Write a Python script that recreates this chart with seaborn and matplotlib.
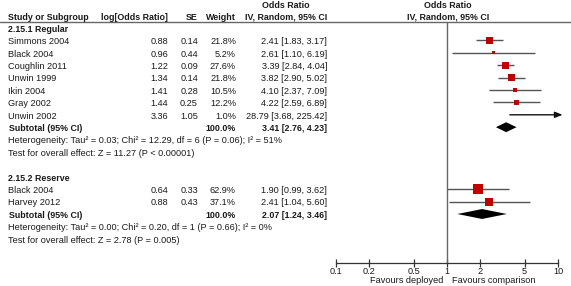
import numpy as np
import pandas as pd
import matplotlib
matplotlib.use("Agg")
import matplotlib.pyplot as plt
import matplotlib.transforms as mtransforms
import seaborn as sns

# -----------------------------
# Data
# -----------------------------
studies_regular = ["Simmons 2004", "Black 2004", "Coughlin 2011", "Unwin 1999",
                   "Ikin 2004", "Gray 2002", "Unwin 2002"]
logor_regular = [0.88, 0.96, 1.22, 1.34, 1.41, 1.44, 3.36]
se_regular = [0.14, 0.44, 0.09, 0.14, 0.28, 0.25, 1.05]
weight_regular = [21.8, 5.2, 27.6, 21.8, 10.5, 12.2, 1.0]
or_regular = [2.41, 2.61, 3.39, 3.82, 4.10, 4.22, 28.79]
lo_regular = [1.83, 1.10, 2.84, 2.90, 2.37, 2.59, 3.68]
hi_regular = [3.17, 6.19, 4.04, 5.02, 7.09, 6.89, 225.42]
sub_regular = [3.41, 2.76, 4.23]
het_regular = "Heterogeneity: Tau\u00b2 = 0.03; Chi\u00b2 = 12.29, df = 6 (P = 0.06); I\u00b2 = 51%"
test_regular = "Test for overall effect: Z = 11.27 (P < 0.00001)"

studies_reserve = ["Black 2004", "Harvey 2012"]
logor_reserve = [0.64, 0.88]
se_reserve = [0.33, 0.43]
weight_reserve = [62.9, 37.1]
or_reserve = [1.90, 2.41]
lo_reserve = [0.99, 1.04]
hi_reserve = [3.62, 5.60]
sub_reserve = [2.07, 1.24, 3.46]
het_reserve = "Heterogeneity: Tau\u00b2 = 0.00; Chi\u00b2 = 0.20, df = 1 (P = 0.66); I\u00b2 = 0%"
test_reserve = "Test for overall effect: Z = 2.78 (P = 0.005)"

ticks = [0.1, 0.2, 0.5, 1, 2, 5, 10]
tick_labels = ["0.1", "0.2", "0.5", "1", "2", "5", "10"]

# -----------------------------
# Style
# -----------------------------
sns.set_style("white")
plt.rcParams["font.family"] = ["Liberation Sans", "DejaVu Sans"]
TXT = "#1a1a1a"
FS = 6.6
FS_B = 6.4
RED = "#c00000"
LINE = "#555555"

W, H = 571, 286
fig = plt.figure(figsize=(W / 100, H / 100), dpi=100)

# forest panel in pixel layout
x0, x1 = 336, 558
y_top, y_bot = 22, 263
ax = fig.add_axes([x0 / W, 1 - y_bot / H, (x1 - x0) / W, (y_bot - y_top) / H])

row0, step = 28, 12.4
ax.set_xscale("log")
ax.set_xlim(0.1, 10)
ax.set_ylim((y_bot - row0) / step, (y_top - row0) / step)

# row positions
rows_regular = list(range(1, 8))
row_sub_regular = 8
rows_reserve = [13, 14]
row_sub_reserve = 15

df = pd.DataFrame({
    "or": or_regular + or_reserve,
    "row": rows_regular + rows_reserve,
    "weight": weight_regular + weight_reserve,
    "lo": lo_regular + lo_reserve,
    "hi": hi_regular + hi_reserve,
})

# CI lines
for _, r in df.iterrows():
    if r["hi"] > 10:
        ax.annotate("", xy=(11, r["row"]), xytext=(r["lo"], r["row"]),
                    arrowprops=dict(arrowstyle="-|>,head_length=0.45,head_width=0.18",
                                    color="#111111", lw=1, shrinkA=0, shrinkB=0),
                    annotation_clip=False)
    else:
        ax.hlines(r["row"], r["lo"], r["hi"], color=LINE, lw=1)

vis = df[df["or"] < 10]
sns.scatterplot(data=vis, x="or", y="row", size="weight", sizes=(0, 58),
                size_norm=(0, 62.9), marker="s", color=RED, linewidth=0,
                legend=False, ax=ax, zorder=3)

# diamonds
for sub, row in [(sub_regular, row_sub_regular), (sub_reserve, row_sub_reserve)]:
    est, lo, hi = sub
    ax.fill([lo, est, hi, est], [row, row - 0.4, row, row + 0.4], color="black", lw=0)

ax.axvline(1, color="#666666", lw=1, zorder=1)

for s in ["top", "left", "right"]:
    ax.spines[s].set_visible(False)
ax.spines["bottom"].set_color("#333333")
ax.spines["bottom"].set_linewidth(0.9)
ax.set_xticks(ticks)
ax.set_xticklabels(tick_labels)
ax.xaxis.set_minor_locator(matplotlib.ticker.NullLocator())
ax.tick_params(axis="x", direction="inout", length=6, width=0.9, color="#333333",
               labelsize=FS, labelcolor=TXT, pad=0, bottom=True)
ax.set_yticks([])
ax.set_xlabel("")
ax.set_ylabel("")

# -----------------------------
# Text columns
# -----------------------------
tr = mtransforms.blended_transform_factory(fig.transFigure, ax.transData)
DY = 0.1  # small nudge so text sits level with the marks


def txt(xpx, row, s, ha="left", bold=False):
    ax.text(xpx / W, row + DY, s, transform=tr, ha=ha, va="center",
            fontsize=FS_B if bold else FS, color=TXT,
            fontweight="bold" if bold else "normal", clip_on=False)


hdr1 = (4 - row0) / step
hdr2 = (16 - row0) / step
txt(8, hdr2, "Study or Subgroup", bold=True)
txt(168, hdr2, "log[Odds Ratio]", ha="right", bold=True)
txt(198, hdr2, "SE", ha="right", bold=True)
txt(236, hdr2, "Weight", ha="right", bold=True)
txt(286, hdr1, "Odds Ratio", ha="center", bold=True)
txt(327, hdr2, "IV, Random, 95% CI", ha="right", bold=True)
txt(448, hdr1, "Odds Ratio", ha="center", bold=True)
txt(448, hdr2, "IV, Random, 95% CI", ha="center", bold=True)

# header line across the full width
yline = (y_top - row0) / step
ax.plot([0, 1], [yline, yline], transform=tr, color="#666666", lw=1, clip_on=False)


def study_rows(names, logor, se, weight, orv, lo, hi, rows):
    for n, l, s, w, o, a, b, r in zip(names, logor, se, weight, orv, lo, hi, rows):
        txt(8, r, n)
        txt(168, r, f"{l:.2f}", ha="right")
        txt(198, r, f"{s:.2f}", ha="right")
        txt(236, r, f"{w:.1f}%", ha="right")
        txt(327, r, f"{o:.2f} [{a:.2f}, {b:.2f}]", ha="right")


txt(8, 0, "2.15.1 Regular", bold=True)
study_rows(studies_regular, logor_regular, se_regular, weight_regular,
           or_regular, lo_regular, hi_regular, rows_regular)
txt(9, row_sub_regular, "Subtotal (95% CI)", bold=True)
txt(236, row_sub_regular, "100.0%", ha="right", bold=True)
txt(327, row_sub_regular, "{:.2f} [{:.2f}, {:.2f}]".format(*sub_regular), ha="right", bold=True)
txt(8, row_sub_regular + 1, het_regular)
txt(8, row_sub_regular + 2, test_regular)

txt(8, 12, "2.15.2 Reserve", bold=True)
study_rows(studies_reserve, logor_reserve, se_reserve, weight_reserve,
           or_reserve, lo_reserve, hi_reserve, rows_reserve)
txt(9, row_sub_reserve, "Subtotal (95% CI)", bold=True)
txt(236, row_sub_reserve, "100.0%", ha="right", bold=True)
txt(327, row_sub_reserve, "{:.2f} [{:.2f}, {:.2f}]".format(*sub_reserve), ha="right", bold=True)
txt(8, row_sub_reserve + 1, het_reserve)
txt(8, row_sub_reserve + 2, test_reserve)

# favours labels
fy = (280.5 - row0) / step - DY
txt(443, fy, "Favours deployed", ha="right")
txt(452, fy, "Favours comparison", ha="left")

fig.savefig("out.png", dpi=100)
